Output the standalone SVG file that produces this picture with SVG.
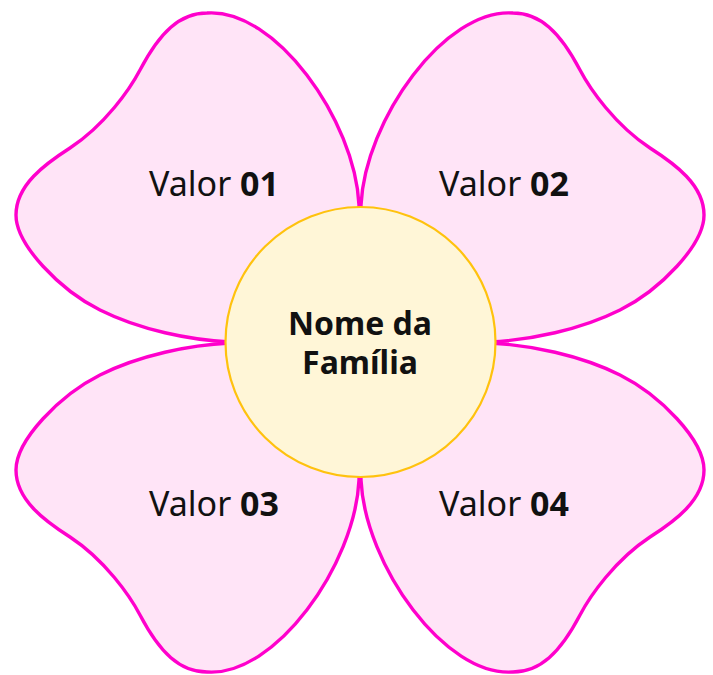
<svg xmlns="http://www.w3.org/2000/svg" width="713" height="675" viewBox="0 0 713 675">
<defs>
<style>
.petal{fill:#FFE4F7;stroke:#FF00CC;stroke-width:3.4;stroke-linejoin:round}
.lbl{font-family:"Noto Sans","Open Sans",sans-serif;font-size:34px;fill:#111;text-anchor:middle}
.b{font-weight:bold}
.center{fill:#FFF6D7;stroke:#FFC20E;stroke-width:2.2}
.ctext{font-family:"Noto Sans","Open Sans",sans-serif;font-size:32px;font-weight:bold;fill:#111;text-anchor:middle}
</style>
<path id="petalShape" d="M 360 342 L 359 205 C 355 120 275 8 207 13 C 180 13 160 32 140 70 C 130 89 105 125 70 148 C 45 164 16 185 16 215 C 16 245 60 290 100 310 C 140 330 190 340 230 342 Z"/>
</defs>
<g id="connectors"></g>
<g id="petal1"><use href="#petalShape" class="petal"/><text class="lbl" x="214" y="196">Valor <tspan class="b">01</tspan></text></g>
<g id="petal2"><use href="#petalShape" class="petal" transform="translate(720,0) scale(-1,1)"/><text class="lbl" x="504" y="196">Valor <tspan class="b">02</tspan></text></g>
<g id="petal3"><use href="#petalShape" class="petal" transform="translate(0,685) scale(1,-1)"/><text class="lbl" x="214" y="516">Valor <tspan class="b">03</tspan></text></g>
<g id="petal4"><use href="#petalShape" class="petal" transform="translate(720,685) scale(-1,-1)"/><text class="lbl" x="504" y="516">Valor <tspan class="b">04</tspan></text></g>
<g id="center"><circle class="center" cx="360.5" cy="342" r="135"/><text class="ctext"><tspan x="360" y="335">Nome da</tspan><tspan x="360" y="374">Família</tspan></text></g>
</svg>
